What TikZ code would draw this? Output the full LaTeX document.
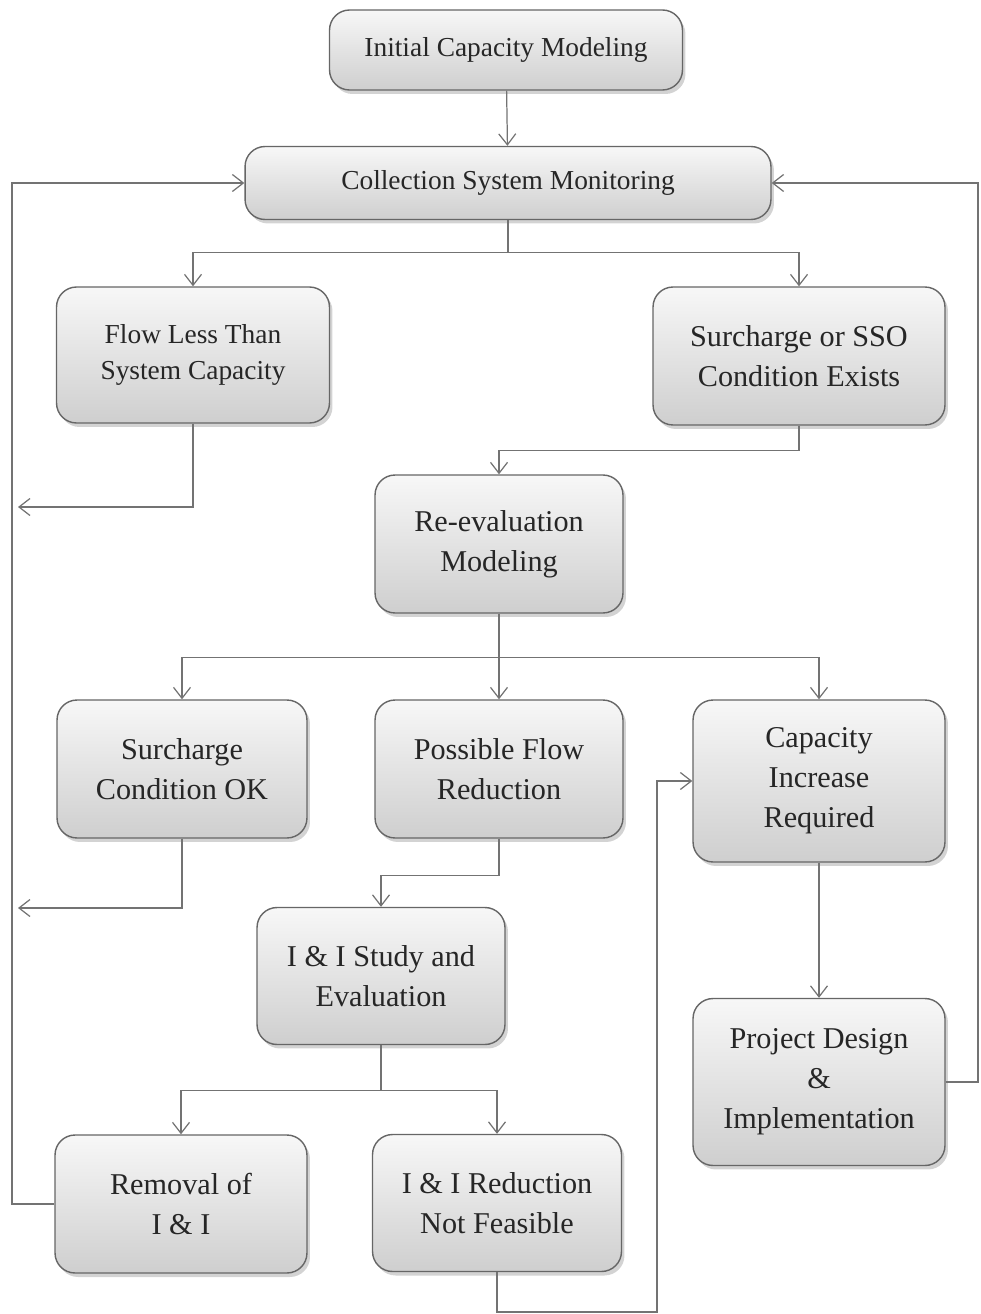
\documentclass[tikz,border=0pt]{standalone}
\usepackage{fontspec}
\setmainfont{Liberation Serif}
\usetikzlibrary{arrows.meta, positioning, shadows}

\tikzset{
  box/.style={draw=gray!80!black, line width=0.8pt, rounded corners=0.4cm,
    top color=gray!6, bottom color=gray!38, align=center, text=black!85,
    drop shadow={shadow xshift=0.6mm, shadow yshift=-0.8mm, opacity=0.35},
    inner sep=2pt},
  smallbox/.style={box, font=\fontsize{15.6}{20.5}\selectfont},
  bigbox/.style={box, font=\fontsize{17.2}{22.8}\selectfont},
  link/.style={draw=gray!90!black, line width=0.7pt},
  >={Straight Barb[length=2.2mm, width=3.4mm]}
}

\begin{document}
\begin{tikzpicture}[x=0.02cm, y=-0.02cm]
\useasboundingbox (0,0) rectangle (980,1314);

% Nodes
\node[smallbox, minimum width=7.06cm, minimum height=1.6cm] (init) at (506,50) {Initial Capacity Modeling};
\node[smallbox, minimum width=10.52cm, minimum height=1.46cm] (csm) at (508,183) {Collection System Monitoring};
\node[smallbox, minimum width=5.46cm, minimum height=2.72cm] (flow) at (193,355) {Flow Less Than\\System Capacity};
\node[bigbox, minimum width=5.84cm, minimum height=2.76cm] (sso) at (799,356) {Surcharge or SSO\\Condition Exists};
\node[bigbox, minimum width=4.96cm, minimum height=2.76cm] (reeval) at (499,544) {Re-evaluation\\Modeling};
\node[bigbox, minimum width=5.0cm, minimum height=2.76cm] (ok) at (182,769) {Surcharge\\Condition OK};
\node[bigbox, minimum width=4.96cm, minimum height=2.76cm] (poss) at (499,769) {Possible Flow\\Reduction};
\node[bigbox, minimum width=5.04cm, minimum height=3.24cm] (capinc) at (819,781) {Capacity\\Increase\\Required};
\node[bigbox, minimum width=4.96cm, minimum height=2.74cm] (study) at (381,976) {I \& I Study and\\Evaluation};
\node[bigbox, minimum width=5.04cm, minimum height=3.34cm] (design) at (819,1082) {Project Design\\\&\\Implementation};
\node[bigbox, minimum width=5.04cm, minimum height=2.76cm] (removal) at (181,1204) {Removal of\\I \& I};
\node[bigbox, minimum width=4.98cm, minimum height=2.74cm] (notfeas) at (497,1203) {I \& I Reduction\\Not Feasible};

% Free ends of the return lines
\coordinate (lline) at (12,0);
\coordinate (rline) at (978,0);
\coordinate (ret1) at (18,507);
\coordinate (ret2) at (18,908);
\coordinate (bcorner) at (657,1312);

% Main flow
\draw[link, ->] (init) -- (csm);
\draw[link, ->] (csm.south) -- ++(0,32) -| (flow.north);
\draw[link, ->] (csm.south) -- ++(0,32) -| (sso.north);
\draw[link, ->] (sso.south) -- ++(0,25) -| (reeval.north);
\draw[link, ->] (reeval.south) -- ++(0,44) -| (ok.north);
\draw[link, ->] (reeval.south) -- (poss.north);
\draw[link, ->] (reeval.south) -- ++(0,44) -| (capinc.north);
\draw[link, ->] (poss.south) -- ++(0,37) -| (study.north);
\draw[link, ->] (study.south) -- ++(0,45) -| (removal.north);
\draw[link, ->] (study.south) -- ++(0,45) -| (notfeas.north);
\draw[link, ->] (capinc) -- (design);

% Return lines
\draw[link, ->] (flow.south) |- (ret1);
\draw[link, ->] (ok.south) |- (ret2);
\draw[link, ->] (removal.west) -- (removal.west -| lline) |- (csm.west);
\draw[link, ->] (design.east) -- (design.east -| rline) |- (csm.east);
\draw[link, ->] (notfeas.south) |- (bcorner) |- (capinc.west);

\end{tikzpicture}
\end{document}
